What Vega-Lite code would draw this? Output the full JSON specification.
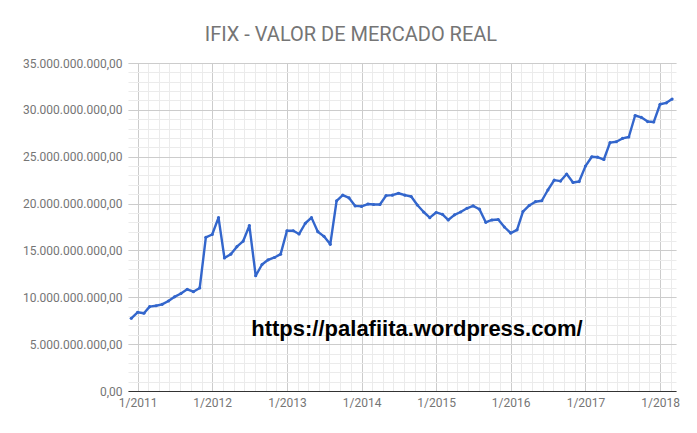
{
  "$schema": "https://vega.github.io/schema/vega-lite/v6.json",
  "width": 548,
  "height": 328,
  "autosize": "none",
  "padding": {"left": 128, "top": 63, "right": 21, "bottom": 42},
  "background": "#ffffff",
  "title": {
    "text": "IFIX - VALOR DE MERCADO REAL",
    "font": "Roboto",
    "fontSize": 20,
    "fontWeight": "normal",
    "color": "#757575",
    "anchor": "middle",
    "frame": "bounds",
    "baseline": "alphabetic",
    "offset": 22,
    "dy": 26
  },
  "config": {
    "view": {"stroke": null},
    "locale": {"number": {"decimal": ",", "thousands": ".", "grouping": [3], "currency": ["R$", ""]}},
    "axis": {"labelFont": "Roboto", "labelFontSize": 12, "labelColor": "#757575", "titleFont": "Roboto"}
  },
  "data": {
    "values": [
      {"mes": "2010-12-01", "valor": 7.75e9},
      {"mes": "2011-01-01", "valor": 8.4e9},
      {"mes": "2011-02-01", "valor": 8.3e9},
      {"mes": "2011-03-01", "valor": 9.0e9},
      {"mes": "2011-04-01", "valor": 9.1e9},
      {"mes": "2011-05-01", "valor": 9.25e9},
      {"mes": "2011-06-01", "valor": 9.6e9},
      {"mes": "2011-07-01", "valor": 10.05e9},
      {"mes": "2011-08-01", "valor": 10.4e9},
      {"mes": "2011-09-01", "valor": 10.85e9},
      {"mes": "2011-10-01", "valor": 10.6e9},
      {"mes": "2011-11-01", "valor": 11.0e9},
      {"mes": "2011-12-01", "valor": 16.4e9},
      {"mes": "2012-01-01", "valor": 16.7e9},
      {"mes": "2012-02-01", "valor": 18.5e9},
      {"mes": "2012-03-01", "valor": 14.2e9},
      {"mes": "2012-04-01", "valor": 14.6e9},
      {"mes": "2012-05-01", "valor": 15.4e9},
      {"mes": "2012-06-01", "valor": 16.0e9},
      {"mes": "2012-07-01", "valor": 17.65e9},
      {"mes": "2012-08-01", "valor": 12.3e9},
      {"mes": "2012-09-01", "valor": 13.5e9},
      {"mes": "2012-10-01", "valor": 14.0e9},
      {"mes": "2012-11-01", "valor": 14.25e9},
      {"mes": "2012-12-01", "valor": 14.6e9},
      {"mes": "2013-01-01", "valor": 17.1e9},
      {"mes": "2013-02-01", "valor": 17.1e9},
      {"mes": "2013-03-01", "valor": 16.75e9},
      {"mes": "2013-04-01", "valor": 17.9e9},
      {"mes": "2013-05-01", "valor": 18.5e9},
      {"mes": "2013-06-01", "valor": 17.0e9},
      {"mes": "2013-07-01", "valor": 16.5e9},
      {"mes": "2013-08-01", "valor": 15.65e9},
      {"mes": "2013-09-01", "valor": 20.3e9},
      {"mes": "2013-10-01", "valor": 20.9e9},
      {"mes": "2013-11-01", "valor": 20.6e9},
      {"mes": "2013-12-01", "valor": 19.75e9},
      {"mes": "2014-01-01", "valor": 19.7e9},
      {"mes": "2014-02-01", "valor": 19.95e9},
      {"mes": "2014-03-01", "valor": 19.9e9},
      {"mes": "2014-04-01", "valor": 19.9e9},
      {"mes": "2014-05-01", "valor": 20.85e9},
      {"mes": "2014-06-01", "valor": 20.9e9},
      {"mes": "2014-07-01", "valor": 21.1e9},
      {"mes": "2014-08-01", "valor": 20.9e9},
      {"mes": "2014-09-01", "valor": 20.75e9},
      {"mes": "2014-10-01", "valor": 19.85e9},
      {"mes": "2014-11-01", "valor": 19.1e9},
      {"mes": "2014-12-01", "valor": 18.5e9},
      {"mes": "2015-01-01", "valor": 19.05e9},
      {"mes": "2015-02-01", "valor": 18.85e9},
      {"mes": "2015-03-01", "valor": 18.25e9},
      {"mes": "2015-04-01", "valor": 18.8e9},
      {"mes": "2015-05-01", "valor": 19.1e9},
      {"mes": "2015-06-01", "valor": 19.5e9},
      {"mes": "2015-07-01", "valor": 19.75e9},
      {"mes": "2015-08-01", "valor": 19.4e9},
      {"mes": "2015-09-01", "valor": 18.0e9},
      {"mes": "2015-10-01", "valor": 18.25e9},
      {"mes": "2015-11-01", "valor": 18.3e9},
      {"mes": "2015-12-01", "valor": 17.5e9},
      {"mes": "2016-01-01", "valor": 16.85e9},
      {"mes": "2016-02-01", "valor": 17.2e9},
      {"mes": "2016-03-01", "valor": 19.15e9},
      {"mes": "2016-04-01", "valor": 19.8e9},
      {"mes": "2016-05-01", "valor": 20.2e9},
      {"mes": "2016-06-01", "valor": 20.3e9},
      {"mes": "2016-07-01", "valor": 21.45e9},
      {"mes": "2016-08-01", "valor": 22.5e9},
      {"mes": "2016-09-01", "valor": 22.4e9},
      {"mes": "2016-10-01", "valor": 23.15e9},
      {"mes": "2016-11-01", "valor": 22.25e9},
      {"mes": "2016-12-01", "valor": 22.35e9},
      {"mes": "2017-01-01", "valor": 24.0e9},
      {"mes": "2017-02-01", "valor": 25.0e9},
      {"mes": "2017-03-01", "valor": 24.95e9},
      {"mes": "2017-04-01", "valor": 24.7e9},
      {"mes": "2017-05-01", "valor": 26.5e9},
      {"mes": "2017-06-01", "valor": 26.6e9},
      {"mes": "2017-07-01", "valor": 26.95e9},
      {"mes": "2017-08-01", "valor": 27.1e9},
      {"mes": "2017-09-01", "valor": 29.4e9},
      {"mes": "2017-10-01", "valor": 29.2e9},
      {"mes": "2017-11-01", "valor": 28.75e9},
      {"mes": "2017-12-01", "valor": 28.7e9},
      {"mes": "2018-01-01", "valor": 30.6e9},
      {"mes": "2018-02-01", "valor": 30.75e9},
      {"mes": "2018-03-01", "valor": 31.15e9}
    ]
  },
  "resolve": {"axis": {"x": "independent", "y": "independent"}},
  "layer": [
    {
      "mark": {"type": "point", "filled": true, "size": 10, "opacity": 1, "color": "#3366cc"},
      "encoding": {
        "x": {
          "field": "mes", "type": "temporal",
          "scale": {"domain": [{"year": 2010, "month": 11, "date": 15}, {"year": 2018, "month": 3, "date": 20}], "nice": false},
          "axis": {
            "orient": "top", "labels": false, "ticks": false, "domain": false, "title": null,
            "grid": true, "gridColor": "#ebebeb", "gridWidth": 1,
            "values": [
              {"year": 2011, "month": 2, "date": 22}, {"year": 2011, "month": 4, "date": 15}, {"year": 2011, "month": 6, "date": 6}, {"year": 2011, "month": 7, "date": 28}, {"year": 2011, "month": 9, "date": 19}, {"year": 2011, "month": 11, "date": 10},
              {"year": 2012, "month": 2, "date": 22}, {"year": 2012, "month": 4, "date": 15}, {"year": 2012, "month": 6, "date": 6}, {"year": 2012, "month": 7, "date": 28}, {"year": 2012, "month": 9, "date": 19}, {"year": 2012, "month": 11, "date": 10},
              {"year": 2013, "month": 2, "date": 22}, {"year": 2013, "month": 4, "date": 15}, {"year": 2013, "month": 6, "date": 6}, {"year": 2013, "month": 7, "date": 28}, {"year": 2013, "month": 9, "date": 19}, {"year": 2013, "month": 11, "date": 10},
              {"year": 2014, "month": 2, "date": 22}, {"year": 2014, "month": 4, "date": 15}, {"year": 2014, "month": 6, "date": 6}, {"year": 2014, "month": 7, "date": 28}, {"year": 2014, "month": 9, "date": 19}, {"year": 2014, "month": 11, "date": 10},
              {"year": 2015, "month": 2, "date": 22}, {"year": 2015, "month": 4, "date": 15}, {"year": 2015, "month": 6, "date": 6}, {"year": 2015, "month": 7, "date": 28}, {"year": 2015, "month": 9, "date": 19}, {"year": 2015, "month": 11, "date": 10},
              {"year": 2016, "month": 2, "date": 22}, {"year": 2016, "month": 4, "date": 15}, {"year": 2016, "month": 6, "date": 6}, {"year": 2016, "month": 7, "date": 28}, {"year": 2016, "month": 9, "date": 19}, {"year": 2016, "month": 11, "date": 10},
              {"year": 2017, "month": 2, "date": 22}, {"year": 2017, "month": 4, "date": 15}, {"year": 2017, "month": 6, "date": 6}, {"year": 2017, "month": 7, "date": 28}, {"year": 2017, "month": 9, "date": 19}, {"year": 2017, "month": 11, "date": 10},
              {"year": 2018, "month": 2, "date": 22}
            ]
          }
        },
        "y": {
          "field": "valor", "type": "quantitative",
          "scale": {"domain": [0, 35000000000], "nice": false, "zero": true},
          "axis": {
            "orient": "right", "labels": false, "ticks": false, "domain": false, "title": null,
            "grid": true, "gridColor": "#ebebeb", "gridWidth": 1,
            "values": [0, 1e9, 2e9, 3e9, 4e9, 5e9, 6e9, 7e9, 8e9, 9e9, 10e9, 11e9, 12e9, 13e9, 14e9, 15e9, 16e9, 17e9, 18e9, 19e9, 20e9, 21e9, 22e9, 23e9, 24e9, 25e9, 26e9, 27e9, 28e9, 29e9, 30e9, 31e9, 32e9, 33e9, 34e9, 35e9]
          }
        }
      }
    },
    {
      "mark": {"type": "line", "color": "#3366cc", "strokeWidth": 2.4, "strokeJoin": "round", "interpolate": "linear"},
      "encoding": {
        "x": {
          "field": "mes", "type": "temporal",
          "axis": {
            "orient": "bottom", "title": null, "format": "%-m/%Y",
            "grid": true, "gridColor": "#cccccc", "gridWidth": 1,
            "ticks": false, "tickSize": 0, "labelPadding": 6, "labelFlush": false, "labelOverlap": false,
            "domain": true, "domainColor": "#333333", "domainWidth": 1,
            "values": [
              {"year": 2011, "month": 1, "date": 1}, {"year": 2012, "month": 1, "date": 1}, {"year": 2013, "month": 1, "date": 1}, {"year": 2014, "month": 1, "date": 1},
              {"year": 2015, "month": 1, "date": 1}, {"year": 2016, "month": 1, "date": 1}, {"year": 2017, "month": 1, "date": 1}, {"year": 2018, "month": 1, "date": 1}
            ]
          }
        },
        "y": {
          "field": "valor", "type": "quantitative",
          "axis": {
            "orient": "left", "title": null, "format": ",.2f",
            "grid": true, "gridColor": "#cccccc", "gridWidth": 1,
            "ticks": false, "tickSize": 0, "labelPadding": 6, "domain": false, "labelOverlap": false,
            "values": [0, 5e9, 10e9, 15e9, 20e9, 25e9, 30e9, 35e9]
          }
        }
      }
    },
    {
      "data": {"values": [{"site": "https://palafiita.wordpress.com/"}]},
      "mark": {"type": "text", "font": "Liberation Sans", "fontWeight": "bold", "fontSize": 22, "color": "#000000", "align": "center", "baseline": "alphabetic"},
      "encoding": {
        "x": {"datum": {"year": 2014, "month": 9, "date": 29}, "type": "temporal", "axis": null},
        "y": {"datum": 5870000000, "type": "quantitative", "axis": null},
        "text": {"field": "site"}
      }
    }
  ]
}
